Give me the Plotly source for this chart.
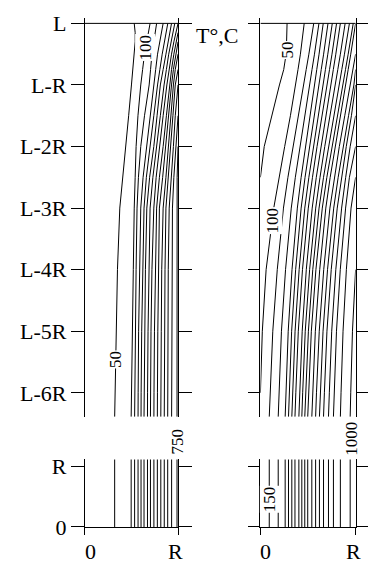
import plotly.graph_objects as go

# Depth below the end face L, in units of the radius R
DEPTHS = [0, 0.15, 0.3, 0.5, 0.75, 1, 1.5, 2, 2.5, 3, 4, 5, 6, 6.39]
DEPTH_TICKS = [0, 1, 2, 3, 4, 5, 6]
DEPTH_TEXT = ["L", "L-R", "L-2R", "L-3R", "L-4R", "L-5R", "L-6R"]

# Isotherm radial positions r/R at each depth (None = isotherm not present)
LEFT_LEVELS = [50, 100, 150, 200, 250, 300, 350, 400, 450, 500, 550, 600, 650, 700, 750]
LEFT_R = [
    [.53, .54, .54, .53, .515, .50, .47, .44, .405, .375, .35, .34, .33, .32],
    [.70, .68, .66, .64, .62, .60, .57, .55, .54, .53, .52, .51, .50, .497],
    [.77, .755, .74, .72, .705, .69, .64, .60, .575, .56, .55, .54, .535, .534],
    [.84, .82, .80, .78, .76, .74, .70, .66, .625, .60, .585, .577, .572, .571],
    [.89, .87, .85, .83, .805, .78, .74, .70, .66, .635, .62, .61, .604, .603],
    [.93, .91, .89, .87, .84, .81, .775, .74, .695, .665, .65, .642, .636, .635],
    [.965, .945, .925, .90, .875, .85, .81, .77, .73, .70, .685, .678, .673, .672],
    [1.0, .975, .955, .93, .905, .88, .84, .80, .765, .74, .72, .71, .705, .704],
    [None, 1.0, .98, .955, .93, .91, .875, .84, .80, .77, .755, .747, .742, .741],
    [None, None, 1.0, .975, .95, .93, .90, .87, .835, .80, .79, .783, .779, .778],
    [None, None, None, 1.0, .97, .95, .925, .90, .87, .84, .825, .82, .816, .815],
    [None, None, None, None, 1.0, .97, .945, .92, .895, .87, .86, .855, .853, .852],
    [None, None, None, None, None, 1.0, .97, .95, .925, .905, .895, .892, .89, .889],
    [None, None, None, None, None, None, 1.0, .975, .955, .94, .935, .933, .931, .931],
    [None, None, None, None, None, None, None, 1.0, .99, .99, .99, .99, .99, .989],
]

RIGHT_LEVELS = [50, 100, 150, 200, 250, 300, 350, 400, 450, 500,
                550, 600, 650, 700, 750, 800, 850, 900, 950, 1000]
RIGHT_R = [
    [.28, .28, .275, .27, .245, .20, .12, .04, 0.0, None, None, None, None, None],
    [.46, .45, .44, .42, .395, .37, .315, .255, .195, .14, .06, .02, 0.0, None],
    [.56, .546, .532, .509, .481, .453, .397, .341, .289, .242, .177, .130, .102, .093],
    [.615, .602, .589, .568, .542, .517, .465, .414, .367, .324, .264, .221, .196, .187],
    [.66, .648, .636, .616, .592, .568, .52, .472, .428, .388, .332, .292, .268, .26],
    [.71, .698, .685, .664, .639, .615, .565, .515, .469, .428, .370, .328, .303, .295],
    [.755, .742, .730, .708, .683, .657, .606, .555, .509, .466, .407, .364, .339, .33],
    [.80, .787, .774, .752, .726, .699, .647, .595, .547, .503, .442, .398, .372, .363],
    [.84, .827, .814, .792, .766, .740, .687, .635, .587, .544, .482, .439, .413, .404],
    [.89, .876, .863, .840, .813, .785, .731, .676, .626, .581, .517, .471, .444, .435],
    [.935, .921, .907, .883, .855, .827, .771, .715, .663, .616, .550, .504, .475, .466],
    [.975, .961, .946, .922, .894, .865, .808, .750, .698, .650, .583, .535, .507, .497],
    [1.0, .986, .972, .949, .922, .894, .839, .784, .733, .687, .623, .577, .549, .54],
    [None, None, None, 1.0, .970, .942, .886, .829, .777, .730, .665, .618, .589, .58],
    [None, None, None, None, 1.0, .982, .926, .869, .817, .770, .705, .658, .629, .62],
    [None, None, None, None, None, 1.0, .956, .902, .852, .807, .744, .699, .672, .663],
    [None, None, None, None, None, None, 1.0, .943, .896, .853, .792, .749, .724, .715],
    [None, None, None, None, None, None, None, 1.0, .935, .895, .839, .799, .775, .767],
    [None, None, None, None, None, None, None, None, 1.0, .952, .903, .868, .847, .84],
    [None, None, None, None, None, None, None, None, None, None, 1.0, .967, .949, .943],
]

# Labelled isotherms: (level, section, r/R, position)
# upper/lower section: position on that section's axis; gap: pixel row from the top
LEFT_LABELS = [(100, "upper", .646, -0.39), (50, "upper", .328, -5.46), (750, "gap", .995, 451)]
RIGHT_LABELS = [(50, "upper", .28, -0.44), (100, "upper", .124, -3.2),
                (1000, "gap", .948, 448), (150, "lower", .104, .46)]

SERIF = "Liberation Serif"
W, H = 368, 569
UPPER_RANGE = [-6.39, 0.094]
CORE_TOP = 1.11

fig = go.Figure()


def add_panel(table, xa_up, ya_up, xa_low, ya_low):
    neg_depth = [-d for d in DEPTHS]
    for row in table:
        fig.add_trace(go.Scatter(
            x=row, y=neg_depth, mode="lines", connectgaps=False,
            line=dict(color="black", width=1), hoverinfo="skip",
            xaxis=xa_up, yaxis=ya_up, showlegend=False))
        r_core = row[-1]
        if r_core is not None and r_core > 0:
            fig.add_trace(go.Scatter(
                x=[r_core, r_core], y=[0, CORE_TOP], mode="lines",
                line=dict(color="black", width=1), hoverinfo="skip",
                xaxis=xa_low, yaxis=ya_low, showlegend=False))


add_panel(LEFT_R, "x", "y", "x3", "y3")
add_panel(RIGHT_R, "x2", "y2", "x4", "y4")

axis_common = dict(showgrid=False, zeroline=False, linecolor="black", linewidth=1,
                   tickcolor="black", tickwidth=1)
x_left = [86 / W, 180.5 / W]
x_right = [264 / W, 360.5 / W]
y_upper = [1 - 425 / H, 1 - 12 / H]
y_lower = [1 - 539 / H, 1 - 469 / H]

hidden_x = dict(range=[0, 1], showline=False, showticklabels=False, ticks="",
                showgrid=False, zeroline=False)
bottom_x = dict(range=[0, 1], showline=True, ticks="outside", ticklen=7,
                tickvals=[0, 1], showticklabels=False, **axis_common)

fig.update_layout(
    width=W, height=H,
    margin=dict(l=0, r=0, t=0, b=0),
    paper_bgcolor="white", plot_bgcolor="white",
    font=dict(family=SERIF, color="black", size=22),
    xaxis=dict(domain=x_left, anchor="y", **hidden_x),
    xaxis2=dict(domain=x_right, anchor="y2", **hidden_x),
    xaxis3=dict(domain=x_left, anchor="y3", **bottom_x),
    xaxis4=dict(domain=x_right, anchor="y4", **bottom_x),
    yaxis=dict(domain=y_upper, anchor="x", range=UPPER_RANGE,
               tickvals=[-t for t in DEPTH_TICKS], ticktext=DEPTH_TEXT,
               ticks="outside", ticklen=13, showline=True, mirror="ticks",
               tickfont=dict(family=SERIF, size=22), **axis_common),
    yaxis2=dict(domain=y_upper, anchor="x2", range=UPPER_RANGE,
                tickvals=[-t for t in DEPTH_TICKS], showticklabels=False,
                ticks="outside", ticklen=11, showline=True, mirror="ticks", **axis_common),
    yaxis3=dict(domain=y_lower, anchor="x3", range=[0, CORE_TOP],
                tickvals=[0, 1], ticktext=["0", "R"],
                ticks="outside", ticklen=13, showline=True, mirror="ticks",
                tickfont=dict(family=SERIF, size=22), **axis_common),
    yaxis4=dict(domain=y_lower, anchor="x4", range=[0, CORE_TOP],
                tickvals=[0, 1], showticklabels=False,
                ticks="outside", ticklen=11, showline=True, mirror="ticks", **axis_common),
)

# End face z = L
for xr, yr in (("x", "y"), ("x2", "y2")):
    fig.add_shape(type="line", xref=xr, yref=yr, x0=0, x1=1, y0=0, y1=0,
                  line=dict(color="black", width=1))

annotations = []
for labels, (xu, yu, xl, yl) in ((LEFT_LABELS, ("x", "y", "x3", "y3")),
                                 (RIGHT_LABELS, ("x2", "y2", "x4", "y4"))):
    for level, part, r, pos in labels:
        if part == "upper":
            xr, yr, yv = xu, yu, pos
        elif part == "lower":
            xr, yr, yv = xl, yl, pos
        else:
            xr, yr, yv = xl, "paper", 1 - pos / H
        annotations.append(dict(
            text=str(level), x=r, y=yv, xref=xr, yref=yr, showarrow=False,
            xanchor="center", yanchor="middle",
            textangle=-90, bgcolor="white", borderpad=0,
            font=dict(family=SERIF, size=17, color="black")))

# Radial axis labels under the core sections
for xr in ("x3", "x4"):
    annotations.append(dict(text="0", x=0, y=0, xref=xr, yref="y3", showarrow=False,
                            xanchor="left", yanchor="top", xshift=-2, yshift=-10,
                            font=dict(family=SERIF, size=22)))
    annotations.append(dict(text="R", x=1, y=0, xref=xr, yref="y3", showarrow=False,
                            xanchor="right", yanchor="top", xshift=7, yshift=-10,
                            font=dict(family=SERIF, size=22)))

annotations.append(dict(text="T°,C", x=219.5 / W, y=1 - 31 / H, xref="paper", yref="paper",
                        showarrow=False, xanchor="center", yanchor="middle",
                        font=dict(family=SERIF, size=22)))

fig.update_layout(annotations=annotations)
fig.write_html("out.html")
